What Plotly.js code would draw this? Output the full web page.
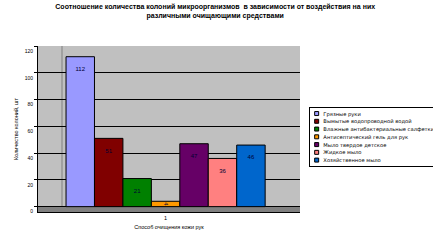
<!DOCTYPE html>
<html><head><meta charset="utf-8">
<script src="https://cdn.plot.ly/plotly-3.0.1.min.js"></script>
<style>html,body{margin:0;padding:0;overflow:hidden;background:#fff;width:433px;height:242px}
#wrap{width:433px;height:242px;overflow:hidden;position:relative}
#plot{position:absolute;left:0;top:0;transform-origin:0 0}</style>
</head><body><div id="wrap"><div id="plot"></div></div>
<script>
const categories = ['1'];
const seriesNames = ['Грязные руки','Вымытые водопроводной водой','Влажные антибактериальные салфетки','Антисептический гель для рук','Мыло твердое детское','Жидкое мыло','Хозяйственное мыло'];
const seriesValues = [112, 51, 21, 4, 47, 36, 46];
const seriesColors = ['#9999ff','#800000','#008000','#ff9900','#660066','#ff8080','#0066cc'];
const yTickVals = [0,20,40,60,80,100,120];

const S = 3;
const W = 433, H = 242;
const el = document.getElementById('plot');
el.style.width = (W*S)+'px'; el.style.height = (H*S)+'px';
el.style.transform = 'scale(' + (1/S) + ')';
const FONT = 'Liberation Sans, Arial, sans-serif';

const traces = seriesNames.map((n,i)=>({
  type:'bar', name:n, x:categories, y:[seriesValues[i]],
  marker:{color:seriesColors[i], line:{color:'#000', width:1*S}},
  text:[seriesValues[i] >= 10 ? '\u00a0<br>'+seriesValues[i] : String(seriesValues[i])],
  textposition:'inside',
  insidetextanchor: seriesValues[i] >= 10 ? 'end' : 'middle', constraintext:'none', cliponaxis:false,
  textfont:{family:FONT, size:6*S, color:'#000033'}
}));

const layout = {
  width:W*S, height:H*S,
  margin:{l:38*S, r:133*S, t:46*S, b:30*S, pad:0},
  paper_bgcolor:'#fff', plot_bgcolor:'#c0c0c0',
  barmode:'group', bargap:0.24, bargroupgap:0,
  showlegend:true,
  title:{text:'<b>Соотношение количества колоний микроорганизмов  в зависимости от воздействия на них<br>различными очищающими средствами</b>',
    font:{family:FONT, size:7*S, color:'#000'}, x:0.497, xanchor:'center', y:1-9/242, yanchor:'top'},
  xaxis:{type:'category', range:[-0.487, 0.513], showgrid:false, zeroline:false,
    showline:true, linecolor:'#000', linewidth:1*S, ticks:'', 
    tickfont:{family:FONT, size:5.5*S, color:'#000'},
    title:{text:'Способ очищения кожи рук', font:{family:FONT, size:5.5*S, color:'#000'}, standoff:5*S}},
  yaxis:{range:[-4,120], tickvals:yTickVals, showgrid:true, gridcolor:'#000', gridwidth:1*S,
    zeroline:false, showline:true, linecolor:'#000', linewidth:1*S,
    ticks:'outside', ticklen:3*S, tickcolor:'#000', tickwidth:1*S,
    ticklabelshift:5*S,
    tickfont:{family:FONT, size:5*S, color:'#000'},
    title:{text:'Количество колоний, шт', font:{family:FONT, size:5.5*S, color:'#000'}, standoff:5*S}},
  legend:{xref:'container', yref:'container', x:309/433, y:1-107/242, xanchor:'left', yanchor:'top',
    bgcolor:'#fff', bordercolor:'#000', borderwidth:1*S,
    font:{family:'DejaVu Sans, sans-serif', size:5.2*S, color:'#000'}, tracegroupgap:0, itemwidth:30},
  shapes:[
    {type:'rect', xref:'paper', yref:'y', x0:0, x1:1, y0:-4, y1:0, fillcolor:'#808080', line:{width:0}, layer:'below'},
    {type:'line', xref:'x domain', yref:'paper', x0:24/262, x1:24/262, y0:0.03, y1:1, line:{color:'#808080', width:1*S}, layer:'below'}
  ]
};
Plotly.newPlot(el, traces, layout, {staticPlot:true, displayModeBar:false});
</script></body></html>
